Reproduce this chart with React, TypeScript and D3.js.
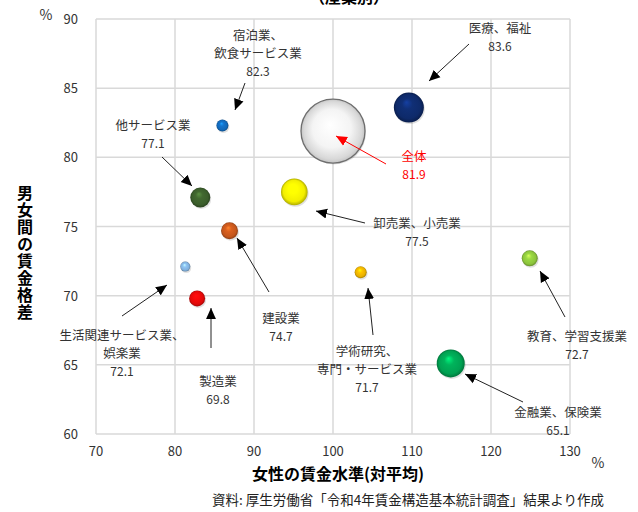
import React from "react";
import * as d3 from "d3";

// 産業別 女性の賃金水準(対平均) と 男女間の賃金格差
const industries = [
  "宿泊業、飲食サービス業",
  "他サービス業",
  "全体",
  "医療、福祉",
  "卸売業、小売業",
  "建設業",
  "生活関連サービス業、娯楽業",
  "製造業",
  "学術研究、専門・サービス業",
  "教育、学習支援業",
  "金融業、保険業",
];
const wageLevel = [86.0, 83.2, 100.0, 109.6, 95.1, 86.9, 81.3, 82.8, 103.5, 124.9, 114.9];
const wageGap = [82.3, 77.1, 81.9, 83.6, 77.5, 74.7, 72.1, 69.8, 71.7, 72.7, 65.1];
const bubbleSize = [36, 100, 1024, 225, 177, 72, 25, 64, 36, 64, 196];
const bubbleColors = [
  "#1268b8", "#3b5e2b", "#f2f2f2", "#0e2a6a", "#f2ee00", "#c4561c",
  "#80b0dc", "#e00a0a", "#e8b000", "#8cc43c", "#00a152",
];
const xTicks = [70, 80, 90, 100, 110, 120, 130];
const yTicks = [60, 65, 70, 75, 80, 85, 90];

// label layout (pixels): text lines, anchor, arrow start/end
const labelLayout = [
  { lines: ["宿泊業、", "飲食サービス業"], x: 258, y: 40, arrow: [245, 83, 235, 110] },
  { lines: ["他サービス業"], x: 153, y: 130, arrow: [162, 157, 192, 186] },
  { lines: ["全体"], x: 414, y: 161, arrow: [386, 164, 336, 136] },
  { lines: ["医療、福祉"], x: 500, y: 33, arrow: [469, 44, 429, 81] },
  { lines: ["卸売業、小売業"], x: 417, y: 228, arrow: [365, 223, 316, 211] },
  { lines: ["建設業"], x: 281, y: 323, arrow: [269, 292, 237, 238] },
  { lines: ["生活関連サービス業、", "娯楽業"], x: 122, y: 340, arrow: [122, 316, 167, 285] },
  { lines: ["製造業"], x: 218, y: 386, arrow: [211, 348, 211, 308] },
  { lines: ["学術研究、", "専門・サービス業"], x: 367, y: 356, arrow: [373, 335, 368, 288] },
  { lines: ["教育、学習支援業"], x: 577, y: 341, arrow: [565, 317, 540, 271] },
  { lines: ["金融業、保険業"], x: 558, y: 417, arrow: [523, 402, 465, 374] },
];

const FONT = "'Noto Sans CJK JP', 'Noto Sans', sans-serif";

const shade = (c: string, k: number) => {
  const col = d3.color(c)!;
  return k > 0 ? col.brighter(k).formatHex() : col.darker(-k).formatHex();
};

export default function App() {
  const x = d3.scaleLinear().domain([70, 130]).range([96, 570]);
  const y = d3.scaleLinear().domain([60, 90]).range([434, 19]);
  const r = d3.scaleSqrt().domain([0, 1024]).range([0, 32]);

  const order = d3.range(industries.length).sort((a, b) => bubbleSize[b] - bubbleSize[a]);

  return (
    <svg
      width={638}
      height={512}
      style={{ position: "absolute", left: 0, top: 0, background: "#fff" }}
      fontFamily={FONT}
    >
      <defs>
        <marker id="ah" viewBox="0 0 10 10" refX="10" refY="5" markerWidth="11" markerHeight="11"
          markerUnits="userSpaceOnUse" orient="auto">
          <path d="M0,0.5 L10,5 L0,9.5 z" fill="#000" />
        </marker>
        <marker id="ahRed" viewBox="0 0 10 10" refX="10" refY="5" markerWidth="11" markerHeight="11"
          markerUnits="userSpaceOnUse" orient="auto">
          <path d="M0,0.5 L10,5 L0,9.5 z" fill="#ff0000" />
        </marker>
        {bubbleColors.map((c, i) =>
          i === 2 ? (
            <radialGradient key={i} id={`g${i}`} cx="50%" cy="50%" r="50%" fx="45%" fy="40%">
              <stop offset="0%" stopColor="#ffffff" />
              <stop offset="60%" stopColor="#f4f4f4" />
              <stop offset="90%" stopColor="#d8d8d8" />
              <stop offset="100%" stopColor="#c4c4c4" />
            </radialGradient>
          ) : (
            <radialGradient key={i} id={`g${i}`} cx="50%" cy="50%" r="50%" fx="42%" fy="32%">
              <stop offset="0%" stopColor={shade(c, 1.2)} />
              <stop offset="35%" stopColor={shade(c, 0.3)} />
              <stop offset="80%" stopColor={c} />
              <stop offset="100%" stopColor={shade(c, -0.9)} />
            </radialGradient>
          )
        )}
      </defs>

      {/* title (cut off at top, as in the source image) */}
      <text x={349} y={3} textAnchor="middle" fontSize={16} fontWeight="bold" fill="#000">（産業別）</text>

      {/* grid */}
      <g stroke="#d9d9d9" strokeWidth={1.5}>
        {xTicks.map((t) => (
          <line key={`gx${t}`} x1={x(t)} x2={x(t)} y1={y(90)} y2={y(60)} />
        ))}
        {yTicks.map((t) => (
          <line key={`gy${t}`} x1={x(70)} x2={x(130)} y1={y(t)} y2={y(t)} />
        ))}
      </g>

      {/* tick labels */}
      <g fontSize={13} fill="#333">
        {yTicks.map((t) => (
          <text key={`ty${t}`} x={78} y={y(t) + 5} textAnchor="end">{t}</text>
        ))}
        {xTicks.map((t) => (
          <text key={`tx${t}`} x={x(t)} y={456} textAnchor="middle">{t}</text>
        ))}
        <text x={46} y={20} textAnchor="middle" fontSize={14}>%</text>
        <text x={598} y={468} textAnchor="middle" fontSize={14}>%</text>
      </g>

      {/* axis titles */}
      <text x={338} y={480} textAnchor="middle" fontSize={16} fontWeight="bold" fill="#000">
        女性の賃金水準(対平均)
      </text>
      <text
        x={25}
        y={185}
        fontSize={16}
        fontWeight="bold"
        fill="#000"
        style={{ writingMode: "vertical-rl", textOrientation: "upright", letterSpacing: "1px" }}
      >
        男女間の賃金格差
      </text>
      <text x={604} y={505} textAnchor="end" fontSize={13.5} fill="#222">
        資料: 厚生労働省「令和4年賃金構造基本統計調査」結果より作成
      </text>

      {/* bubbles */}
      {order.map((i) => (
        <g key={`b${i}`}>
          <circle cx={x(wageLevel[i]) + 1} cy={y(wageGap[i]) + 1.5} r={r(bubbleSize[i])}
            fill="#000" opacity={0.12} />
          <circle
            cx={x(wageLevel[i])}
            cy={y(wageGap[i])}
            r={r(bubbleSize[i])}
            fill={`url(#g${i})`}
            stroke={i === 2 ? "#6e6e6e" : "none"}
            strokeWidth={1.3}
          />
        </g>
      ))}

      {/* labels and arrows */}
      {labelLayout.map((l, i) => {
        const red = i === 2;
        const col = red ? "#ff0000" : "#333";
        return (
          <g key={`l${i}`}>
            <line x1={l.arrow[0]} y1={l.arrow[1]} x2={l.arrow[2]} y2={l.arrow[3]}
              stroke={red ? "#ff0000" : "#222"} strokeWidth={1}
              markerEnd={red ? "url(#ahRed)" : "url(#ah)"} />
            {l.lines.map((t, k) => (
              <text key={k} x={l.x} y={l.y + k * 18} textAnchor="middle" fontSize={12.5} fill={col}>{t}</text>
            ))}
            <text x={l.x} y={l.y + l.lines.length * 18} textAnchor="middle" fontSize={12} fill={col}>
              {wageGap[i].toFixed(1)}
            </text>
          </g>
        );
      })}
    </svg>
  );
}
